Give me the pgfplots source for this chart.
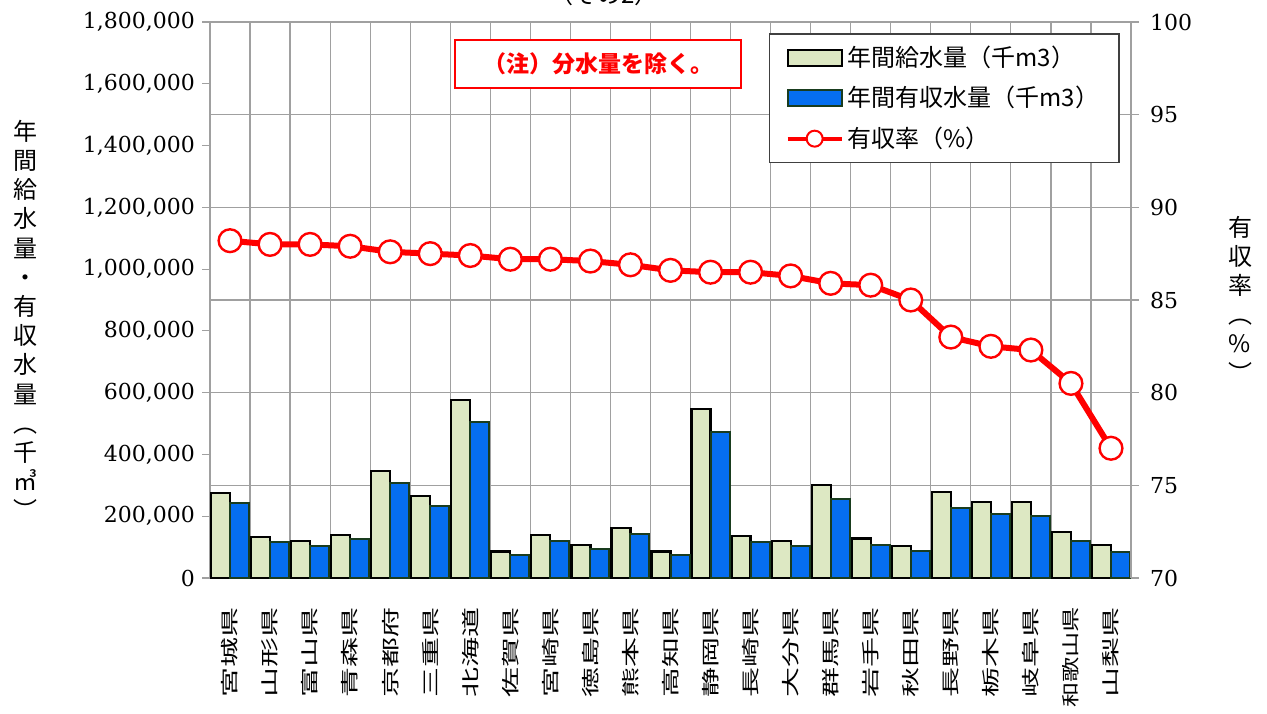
\documentclass[border=0pt]{standalone}
\usepackage{fontspec}
\setmainfont{DejaVu Serif}
\newfontfamily\cjk{Noto Sans CJK JP}
\usepackage{graphicx}
\usepackage{pgfplots}
\usepackage{pgfplotstable}
\pgfplotsset{compat=1.18}
\definecolor{lightbar}{RGB}{221,232,195}
\definecolor{bluebar}{RGB}{5,110,240}
\definecolor{blueedge}{RGB}{25,60,30}
\definecolor{gridgray}{RGB}{160,160,160}
\newcommand{\cl}[1]{\scalebox{1}[0.6]{#1}}

\pgfplotstableread{
idx supply revenue rate
0 276000 242000 88.2
1 132000 116000 88.0
2 121000 104000 88.0
3 140000 125000 87.9
4 346000 307000 87.6
5 265000 233000 87.5
6 576000 506000 87.4
7 86000 73000 87.2
8 140000 121000 87.2
9 106000 93000 87.1
10 161000 141000 86.9
11 86000 73000 86.6
12 547000 473000 86.5
13 135000 116000 86.5
14 121000 104000 86.3
15 301000 255000 85.9
16 128000 107000 85.8
17 104000 88000 85.0
18 279000 228000 83.0
19 246000 206000 82.5
20 246000 200000 82.3
21 150000 121000 80.5
22 108000 83000 77.0
}\datatable

\begin{document}
\begin{tikzpicture}
\useasboundingbox (0,0) rectangle (633.5pt,356.5pt);
\begin{axis}[
  at={(105pt,67.5pt)}, anchor=south west, scale only axis,
  width=460.5pt, height=278pt,
  xmin=-0.5, xmax=22.5, ymin=0, ymax=1800000,
  ybar=0pt, bar width=9.5pt,
  xtick={0,1,2,3,4,5,6,7,8,9,10,11,12,13,14,15,16,17,18,19,20,21,22},
  xticklabels={\cl{宮城県},\cl{山形県},\cl{富山県},\cl{青森県},\cl{京都府},\cl{三重県},\cl{北海道},\cl{佐賀県},\cl{宮崎県},\cl{徳島県},\cl{熊本県},\cl{高知県},\cl{静岡県},\cl{長崎県},\cl{大分県},\cl{群馬県},\cl{岩手県},\cl{秋田県},\cl{長野県},\cl{栃木県},\cl{岐阜県},\scalebox{0.84}[0.6]{和歌山県},\cl{山梨県}},
  xtick style={draw=none},
  minor xtick={-0.5,0.5,1.5,2.5,3.5,4.5,5.5,6.5,7.5,8.5,9.5,10.5,11.5,12.5,13.5,14.5,15.5,16.5,17.5,18.5,19.5,20.5,21.5,22.5},
  xminorgrids, minor grid style={gridgray, line width=0.6pt},
  minor tick length=0pt,
  xticklabel style={rotate=90, anchor=east, font=\cjk\fontsize{15}{15}\selectfont},
  xticklabel shift=7pt,
  ytick={0,200000,400000,600000,800000,1000000,1200000,1400000,1600000,1800000},
  ytick pos=left, tick align=outside, major tick length=4pt,
  ytick style={gridgray, line width=0.6pt},
  scaled y ticks=false,
  yticklabel style={font=\fontsize{11}{13}\selectfont},
  /pgf/number format/fixed,
  /pgf/number format/1000 sep={,},
  /pgf/number format/assume math mode=true,
  extra y ticks={300000,600000,900000,1200000,1500000},
  extra y tick labels={},
  extra y tick style={grid=major, major grid style={gridgray, line width=0.6pt}, major tick length=0pt},
  axis line style={gridgray, line width=0.8pt},
]
\addplot[fill=lightbar, draw=black, line width=1.1pt] table[x=idx,y=supply]{\datatable};
\addplot[fill=bluebar, draw=blueedge, line width=1pt] table[x=idx,y=revenue]{\datatable};
\end{axis}
\begin{axis}[
  at={(105pt,67.5pt)}, anchor=south west, scale only axis,
  width=460.5pt, height=278pt,
  xmin=-0.5, xmax=22.5, ymin=70, ymax=100,
  axis x line=none, axis y line*=right,
  ytick={70,75,80,85,90,95,100},
  tick align=outside, major tick length=4pt,
  ytick style={gridgray, line width=0.6pt},
  axis line style={gridgray, line width=0.8pt},
  yticklabel style={font=\fontsize{11}{13}\selectfont, xshift=2pt},
  /pgf/number format/assume math mode=true,
  legend style={at={(1,1)}, anchor=north east, xshift=-5.5pt, yshift=-5.5pt,
    draw=black!75, line width=0.8pt, fill=white,
    font=\cjk\fontsize{12}{13}\selectfont, row sep=4.5pt, inner xsep=8pt, inner ysep=4pt},
  legend cell align=left,
]
\addlegendimage{legend image code/.code={\draw[fill=lightbar,draw=black,line width=1pt] (0pt,-4pt) rectangle (27pt,4pt);}}
\addlegendentry{年間給水量（千m3）}
\addlegendimage{legend image code/.code={\draw[fill=bluebar,draw=blueedge,line width=1pt] (0pt,-4pt) rectangle (27pt,4pt);}}
\addlegendentry{年間有収水量（千m3）}
\addplot[red, line width=3pt, mark=*, mark size=5.7pt,
  mark options={fill=white, draw=red, line width=1.2pt},
  legend image code/.code={\draw[red, line width=2pt] (0pt,0pt) -- (27pt,0pt); \draw[fill=white, draw=red, line width=1pt] (13.5pt,0pt) circle (4pt);}]
  table[x=idx,y=rate]{\datatable};
\addlegendentry{有収率（\%）}
\end{axis}
\node[draw=red, line width=1pt, fill=white, minimum width=143pt, minimum height=24pt, text=red, font=\cjk\bfseries\fontsize{11.5}{13}\selectfont] at (299pt,324.5pt) {（注）分水量を除く。};
\node[anchor=base, font=\cjk\fontsize{12}{14}\selectfont] at (302pt,354.5pt) {（その2）};
\node[align=center, font=\cjk\fontsize{12}{14.6}\selectfont, inner sep=0pt] at (12.5pt,196.5pt) {年\\間\\給\\水\\量\\・\\有\\収\\水\\量\\︵\\千\\㎥\\︶};
\node[align=center, font=\cjk\fontsize{12}{14.6}\selectfont, inner sep=0pt] at (620pt,207pt) {有\\収\\率\\︵\\\%\\︶};
\end{tikzpicture}
\end{document}
